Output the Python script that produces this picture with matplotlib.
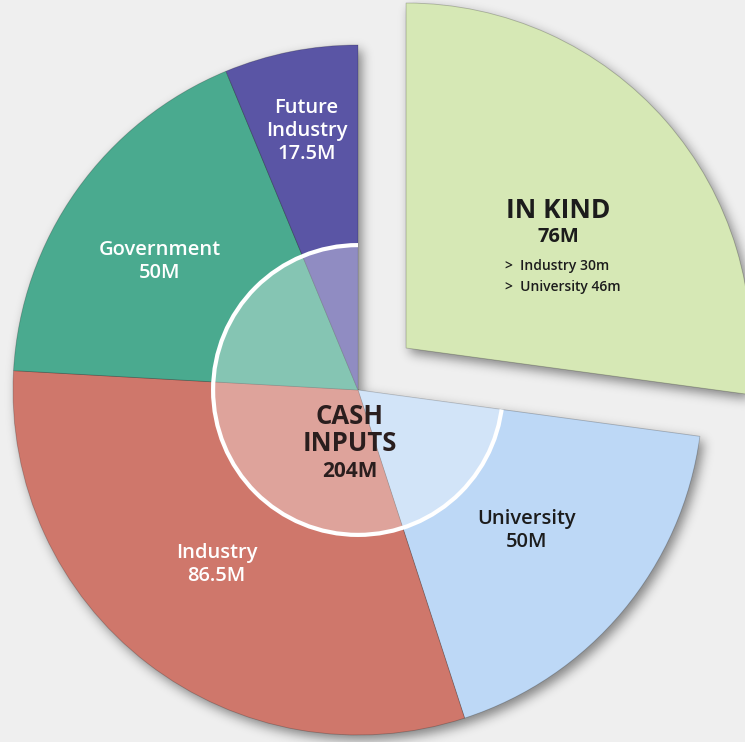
import numpy as np
import matplotlib
matplotlib.use("Agg")
import matplotlib.pyplot as plt
from matplotlib.patches import Wedge, Circle

# funding sources (millions)
sources = ["IN KIND", "University", "Industry", "Government", "Future\nIndustry"]
amounts = [76, 50, 86.5, 50, 17.5]
in_kind_split = ["Industry 30m", "University 46m"]
colors = ["#d6e8b5", "#bdd8f6", "#cf776b", "#4aaa8f", "#5a55a5"]
text_colors = ["#1c1c1c", "#1c1c1c", "#ffffff", "#ffffff", "#ffffff"]
label_dist = [0.0, 0.635, 0.65, 0.685, 0.765]
label_turn = [0, 0, -1.5, 2.5, 0]  # degrees added to the slice mid-angle

cash_total = sum(amounts[1:])

plt.rcParams['font.family'] = ['Open Sans', 'DejaVu Sans']

SCALE = 345.0  # pixels per unit radius
W, H = 745, 742
cx, cy = 358, 352  # pie centre in pixels (from bottom-left)


def blur1d(a, k, axis):
    return np.apply_along_axis(lambda r: np.convolve(r, k, mode='same'), axis, a)


# soft drop shadow used as agg filter
def shadow_filter(im, dpi):
    pad = 20
    src = np.pad(im, [(pad, pad), (pad, pad), (0, 0)], "constant")
    sigma = 5.5
    x = np.arange(-16, 17)
    k = np.exp(-x**2 / (2 * sigma**2))
    k /= k.sum()
    a = blur1d(src[..., 3], k, 0)
    a = blur1d(a, k, 1)
    a = np.roll(a, 4, axis=1)
    a = np.roll(a, 5, axis=0)
    out = np.zeros_like(src)
    out[..., 3] = a * 0.45
    return out, -pad, -pad


fig = plt.figure(figsize=(W / 100, H / 100), dpi=100)
fig.patch.set_facecolor("#efefef")
ax = fig.add_axes([0, 0, 1, 1])
ax.set_facecolor("#efefef")

wedges, _ = ax.pie(amounts, colors=colors, startangle=90, counterclock=False,
                   explode=[0.185, 0, 0, 0, 0], radius=1,
                   wedgeprops=dict(edgecolor=(0, 0, 0, 0.22), linewidth=0.6))
for w in wedges:
    w.set_zorder(3)

# pie() resets the limits, so set them afterwards
ax.set_xlim(-cx / SCALE, (W - cx) / SCALE)
ax.set_ylim(-cy / SCALE, (H - cy) / SCALE)
ax.set_aspect("equal")
ax.axis("off")

# shadows: one for the in-kind slice, one for the cash slices together
kind = wedges[0]
cash_t1 = min(w.theta1 for w in wedges[1:])
cash_t2 = max(w.theta2 for w in wedges[1:])
sh1 = Wedge(kind.center, kind.r, kind.theta1, kind.theta2, facecolor="k",
            edgecolor="none", zorder=1)
sh2 = Wedge((0, 0), 1, cash_t1, cash_t2, facecolor="k", edgecolor="none",
            zorder=1)
for sh in (sh1, sh2):
    sh.set_agg_filter(shadow_filter)
    sh.set_rasterized(True)
    ax.add_patch(sh)

# inner ring, only over the cash slices
cash_area = Wedge((0, 0), 1, cash_t1, cash_t2, transform=ax.transData)
ring = Circle((0, 0), 0.42, facecolor=(1, 1, 1, 0.33), edgecolor="white",
              linewidth=3, zorder=4)
ax.add_patch(ring)
ring.set_clip_path(cash_area)

# slice labels
for i in range(1, len(amounts)):
    w = wedges[i]
    mid = np.deg2rad((w.theta1 + w.theta2) / 2 + label_turn[i])
    x = label_dist[i] * np.cos(mid)
    y = label_dist[i] * np.sin(mid)
    ax.text(x, y, "{}\n{:g}M".format(sources[i], amounts[i]), ha="center",
            va="center", fontsize=14.5, color=text_colors[i],
            fontweight="semibold", linespacing=1.2, zorder=5)

# in-kind block
ang = np.deg2rad(33)
kx = kind.center[0] + 0.53 * np.cos(ang)
ky = kind.center[1] + 0.53 * np.sin(ang)
ax.annotate(sources[0], (kx, ky), xytext=(-1, 27), textcoords="offset points",
            ha="center", va="center", fontsize=19, fontweight="bold",
            color=text_colors[0], zorder=5)
ax.annotate("{:g}M".format(amounts[0]), (kx, ky), xytext=(-1, 8),
            textcoords="offset points", ha="center", va="center", fontsize=14.5,
            fontweight="bold", color=text_colors[0], zorder=5)
for j, s in enumerate(in_kind_split):
    ax.annotate(">  " + s, (kx, ky), xytext=(-39, -13 - 15 * j),
                textcoords="offset points", ha="left", va="center",
                fontsize=10, fontweight="semibold", color=text_colors[0],
                zorder=5)

# centre label
ax.annotate("CASH\nINPUTS", (0, 0), xytext=(-6, -29), textcoords="offset points",
            ha="center", va="center", fontsize=18.5, fontweight="bold",
            color="#2a1e1e", linespacing=1.0, zorder=5)
ax.annotate("{:g}M".format(cash_total), (0, 0), xytext=(-6, -59),
            textcoords="offset points", ha="center", va="center", fontsize=15,
            fontweight="bold", color="#2a1e1e", zorder=5)

fig.savefig("out.png", dpi=100, facecolor=fig.get_facecolor())
